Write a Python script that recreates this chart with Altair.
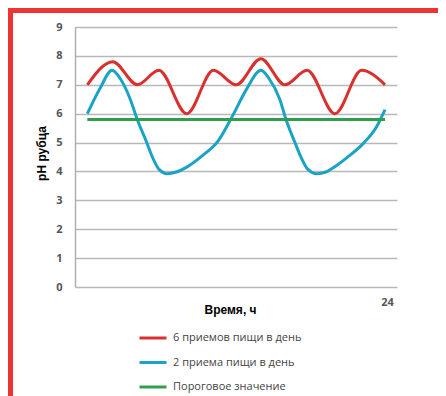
import altair as alt
import pandas as pd

# Series names
s_six = "6 приемов пищи в день"
s_two = "2 приема пищи в день"
s_thr = "Пороговое значение"

# 6 meals per day (hours, pH)
six_h = [0.95, 2.9, 4.8, 6.45, 8.6, 10.65, 12.4, 14.3, 16.15, 17.85, 20.0, 22.05, 23.85]
six_ph = [7.0, 7.8, 7.0, 7.5, 6.0, 7.5, 7.0, 7.9, 7.0, 7.5, 6.0, 7.5, 7.0]

# 2 meals per day
two_h = [0.95, 1.95, 2.85, 3.5, 4.25, 4.79, 5.52, 5.95, 6.45, 7.1, 7.8, 8.6, 9.75, 11.0, 12.15, 13.2,
         14.3, 14.95, 15.75, 16.23, 16.92, 17.38, 17.9, 18.6, 19.3, 20.1, 20.9, 22.2, 23.2, 23.85]
two_ph = [6.0, 6.9, 7.5, 7.2, 6.5, 5.8, 5.0, 4.5, 4.08, 3.92, 3.98, 4.15, 4.53, 5.05, 5.95, 6.85,
          7.5, 7.2, 6.5, 5.8, 5.0, 4.5, 4.08, 3.92, 3.98, 4.2, 4.47, 4.98, 5.55, 6.14]

# Threshold
thr_h = [0.95, 23.85]
thr_ph = [5.8, 5.8]

y_ticks = [0, 1, 2, 3, 4, 5, 6, 7, 8, 9]
x_ticks = [24]

rows = []
for h, v in zip(six_h, six_ph):
    rows.append({"series": s_six, "h": h, "ph": v})
for h, v in zip(two_h, two_ph):
    rows.append({"series": s_two, "h": h, "ph": v})
for h, v in zip(thr_h, thr_ph):
    rows.append({"series": s_thr, "h": h, "ph": v})
df = pd.DataFrame(rows)

order = [s_six, s_two, s_thr]
colors = ["#d9302e", "#1ba3c6", "#2e9e4f"]

lines = alt.Chart(df).mark_line(strokeWidth=3, interpolate="monotone").encode(
    x=alt.X("h:Q", scale=alt.Scale(domain=[0, 24.77], nice=False, zero=False),
            axis=alt.Axis(values=x_ticks, grid=False, domain=False, ticks=False, tickSize=0,
                          labelFont="Open Sans", labelFontWeight="bold", labelFontSize=11,
                          labelColor="#555555", labelPadding=9,
                          title="Время, ч", titleFont="Liberation Sans", titleFontSize=12,
                          titleFontWeight="bold", titleColor="#000000",
                          titleX=155, titleY=22, titleBaseline="middle", titleAlign="center")),
    y=alt.Y("ph:Q", scale=alt.Scale(domain=[0, 9], nice=False),
            axis=alt.Axis(values=y_ticks, grid=True, gridColor="#b8b8b8", gridWidth=1.5,
                          domain=True, domainColor="#b0b0b0", domainWidth=1.5,
                          ticks=False, tickSize=0,
                          labelFont="Open Sans", labelFontWeight="bold", labelFontSize=11,
                          labelColor="#555555", labelPadding=13,
                          title="pH рубца", titleFont="Liberation Sans", titleFontSize=12,
                          titleFontWeight="bold", titleColor="#000000",
                          titleX=-34, titleY=126, titleBaseline="middle", titleAlign="center")),
    color=alt.Color("series:N", sort=order,
                    scale=alt.Scale(domain=order, range=colors),
                    legend=alt.Legend(title=None, orient="none", legendX=63, legendY=296,
                                      direction="vertical", symbolType="stroke",
                                      symbolSize=729, symbolStrokeWidth=3,
                                      labelFont="Open Sans", labelFontSize=11,
                                      labelColor="#444444", rowPadding=3.5, padding=0,
                                      labelOffset=5)),
    order=alt.Order("h:Q"),
)

frame_df = pd.DataFrame({"k": [0]})
frame_top = alt.Chart(frame_df).mark_rule(color="#ee3333", strokeWidth=5).encode(
    x=alt.value(-67), x2=alt.value(363), y=alt.value(-16.5)
)
frame_left = alt.Chart(frame_df).mark_rule(color="#ee3333", strokeWidth=5).encode(
    x=alt.value(-64.5), y=alt.value(-19), y2=alt.value(370)
)

chart = alt.layer(lines, frame_top, frame_left).properties(
    width=322, height=260,
    autosize=alt.AutoSizeParams(type="none"),
    padding={"left": 67, "top": 19, "right": 41, "bottom": 109},
    background="white",
).configure_view(stroke=None)

chart.save("out.html", embed_options={"renderer": "svg", "actions": False})
